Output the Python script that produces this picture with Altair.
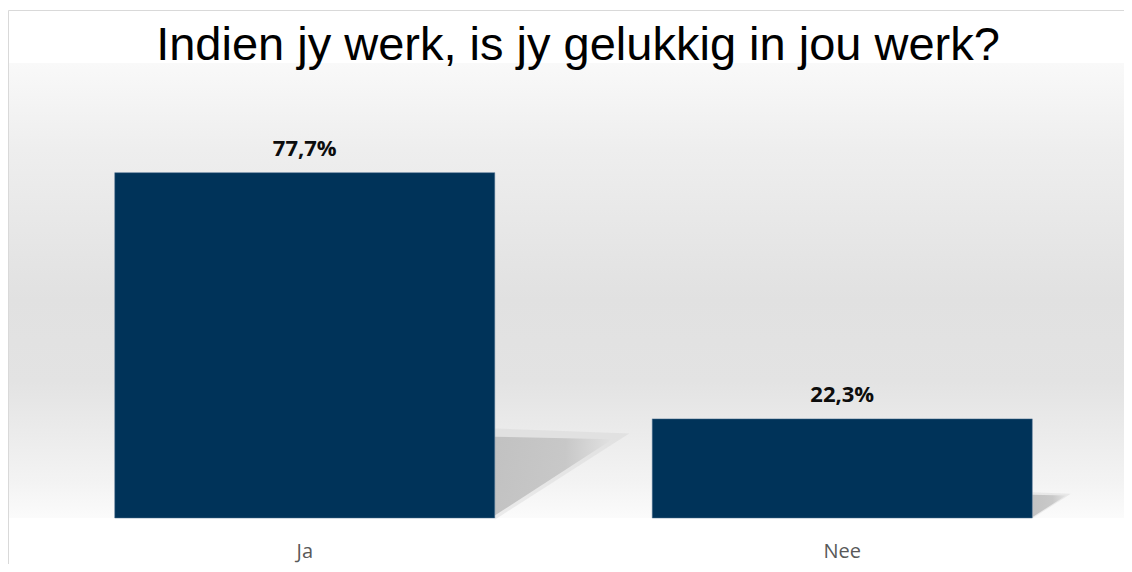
import altair as alt
import pandas as pd

TITLE = "Indien jy werk, is jy gelukkig in jou werk?"
categories = ["Ja", "Nee"]
values = [77.7, 22.3]

W, H = 1075, 400

df = pd.DataFrame({"cat": categories, "value": values})
one = pd.DataFrame({"t": [TITLE]})

xenc = alt.X(
    "cat:N",
    sort=categories,
    scale=alt.Scale(paddingInner=0.293, paddingOuter=0.1465),
    axis=alt.Axis(
        title=None, labelAngle=0, ticks=False, domain=False, grid=False,
        labelFont="Open Sans", labelFontSize=20, labelColor="#595959",
        labelBaseline="alphabetic", labelPadding=39,
    ),
)
yscale = alt.Scale(domain=[0, 90], nice=False, zero=True)

bg_grad = alt.LinearGradient(
    gradient="linear", x1=0, y1=0, x2=0, y2=1,
    stops=[
        alt.GradientStop(offset=0, color="#f9f9f9"),
        alt.GradientStop(offset=0.19, color="#eeeeee"),
        alt.GradientStop(offset=0.52, color="#e1e1e1"),
        alt.GradientStop(offset=0.70, color="#e3e3e3"),
        alt.GradientStop(offset=0.92, color="#f3f3f3"),
        alt.GradientStop(offset=1, color="#fbfbfb"),
    ],
)

bg = alt.Chart(one).mark_rect(fill=bg_grad).encode(
    x=alt.value(-28), x2=alt.value(W + 21), y=alt.value(-55), y2=alt.value(H)
)

shadow_grad = alt.LinearGradient(
    gradient="linear", x1=0, y1=0, x2=1, y2=0,
    stops=[
        alt.GradientStop(offset=0, color="#bcbcbc"),
        alt.GradientStop(offset=0.6, color="#c3c3c3"),
        alt.GradientStop(offset=1, color="#e2e2e2"),
    ],
)

size_scale = alt.Scale(type="pow", exponent=2, domain=[0, 100], range=[0, 45600])
off_scale = alt.Scale(domain=[0, 1], range=[0, 380])


def shadow_layer(path, opacity, fill):
    return alt.Chart(df).transform_calculate(base="0", off="1").mark_point(
        shape=path, filled=True, fill=fill, opacity=opacity, strokeWidth=0,
    ).encode(
        x=xenc,
        xOffset=alt.XOffset("off:Q", scale=off_scale),
        y=alt.Y("base:Q", scale=yscale, axis=None),
        size=alt.Size("value:Q", scale=size_scale, legend=None),
    )


halo = shadow_layer("M0,0.02 L0,-1.08 L1.62,-1.02 Z", 0.35, "#cdcdcd")
shadow = shadow_layer("M0,-0.03 L0,-0.98 L1.42,-0.95 Z", 0.85, shadow_grad)

bars = alt.Chart(df).mark_bar(
    color="#003359", stroke="#4d6f91", strokeWidth=1, strokeOpacity=0.5, width=380
).encode(
    x=xenc,
    y=alt.Y("value:Q", scale=yscale, axis=None),
)

labels = alt.Chart(df).transform_calculate(
    lbl="replace(format(datum.value, '.1f'), '.', ',') + '%'"
).mark_text(
    font="Open Sans", fontWeight="bold", fontSize=22, color="#0d0d0d",
    dy=-17, baseline="alphabetic",
).encode(
    x=xenc,
    y=alt.Y("value:Q", scale=yscale, axis=None),
    text="lbl:N",
)

title = alt.Chart(one).mark_text(
    font="Liberation Sans", fontSize=47, color="#000000", baseline="alphabetic", align="center",
).encode(
    text="t:N", x=alt.value(542), y=alt.value(-58)
)

border = alt.Chart(one).mark_rect(fillOpacity=0, stroke="#d9d9d9", strokeWidth=1).encode(
    x=alt.value(-27.5), x2=alt.value(W + 60), y=alt.value(-107.5), y2=alt.value(H + 100)
)

chart = alt.layer(bg, halo, shadow, bars, labels, title, border).properties(
    width=W, height=H,
    padding={"left": 28, "top": 110, "right": 13, "bottom": 46},
    autosize=alt.AutoSizeParams(type="none"),
    background="#ffffff",
).configure_view(stroke=None)

chart.save("out.html", embed_options={"renderer": "svg", "actions": False})
